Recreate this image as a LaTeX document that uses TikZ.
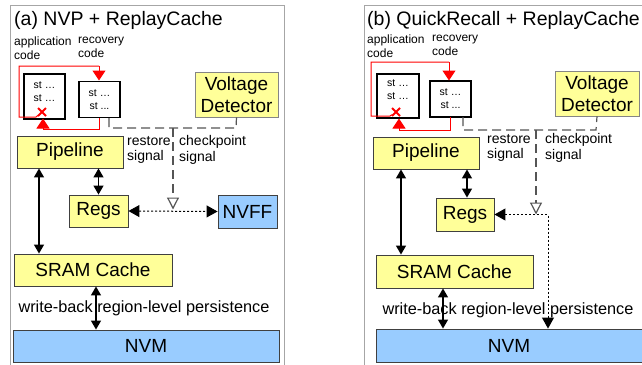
\documentclass[tikz,border=0pt]{standalone}
\usepackage{fontspec}
\setmainfont{Liberation Sans}
\usepackage{tikz}
\usetikzlibrary{arrows.meta,shapes.misc}
\definecolor{panel}{HTML}{A6A6A6}
\definecolor{boxline}{HTML}{404040}
\definecolor{hot}{HTML}{FFFF99}
\definecolor{cold}{HTML}{99CCFF}
\definecolor{sig}{HTML}{555555}
\tikzset{
  frame/.style={draw=panel, line width=1pt},
  title/.style={anchor=west, inner sep=0pt, font=\fontsize{19.5}{22}\selectfont},
  small/.style={anchor=north west, inner sep=0pt, align=left, font=\fontsize{12}{14}\selectfont},
  note/.style={anchor=west, inner sep=0pt, align=left, font=\fontsize{14}{15.5}\selectfont},
  wide/.style={inner sep=0pt, font=\fontsize{16.3}{18}\selectfont},
  codebox/.style={draw=black, line width=1.1pt, fill=white, inner sep=0pt, align=center,
    font=\fontsize{10.5}{13}\selectfont},
  unit/.style={draw=boxline, line width=0.9pt, fill=hot, inner sep=0pt, align=center,
    font=\fontsize{19}{22}\selectfont},
  mem/.style={unit, fill=cold},
  redline/.style={draw=red, line width=1pt},
  redarr/.style={redline, -{Triangle[width=13pt,length=10pt]}},
  xmark/.style={cross out, draw=red, line width=2pt, minimum size=6pt, inner sep=0pt},
  dbl/.style={line width=1.3pt, {Triangle[width=10pt,length=9pt]}-{Triangle[width=10pt,length=9pt]}},
  ctl/.style={draw=sig, line width=1.2pt, dash pattern=on 9pt off 5pt},
  trig/.style={ctl, -{Triangle[open,width=12pt,length=12pt]}},
  dot/.style={line width=1pt, dash pattern=on 2pt off 2pt},
}

\begin{document}
\begin{tikzpicture}[x=1pt, y=-1pt]
  \useasboundingbox (0,0) rectangle (642,364);

  % ---------------- (a) NVP + ReplayCache ----------------
  \draw[frame] (10,366) -- (10,5) -- (284,5) -- (284,366);
  \node[title] (titleA) at (14,20) {(a) NVP + ReplayCache};
  \node[small] (appA) at (14,37) {application\\code};
  \node[small] (recA) at (78,37) {recovery\\code};

  \node[codebox, text depth=10pt, minimum width=41, minimum height=45] (appboxA) at (44.5,96.5) {st …\\st …};
  \node[codebox, minimum width=41, minimum height=36] (recboxA) at (99.5,99.5) {st …\\st ...};
  \node[xmark] (crossA) at (42,112) {};

  \node[unit, draw=panel!80!black, minimum width=83, minimum height=45] (vdA) at (236.5,94.5) {Voltage\\Detector};
  \node[unit, minimum width=106, minimum height=32] (pipeA) at (70,152) {Pipeline};
  \node[unit, minimum width=59, minimum height=32] (regsA) at (98.5,211) {Regs};
  \node[mem, minimum width=59, minimum height=33] (nvffA) at (247.5,211.5) {NVFF};
  \node[unit, minimum width=158, minimum height=32] (sramA) at (93,270) {SRAM Cache};
  \node[mem, minimum width=266, minimum height=32] (nvmA) at (146,346) {NVM};

  \node[note] (restA) at (127,150) {restore\\signal};
  \node[note] (ckptA) at (179,150) {checkpoint\\signal};

  % recovery flow
  \draw[redline] (crossA) -- (36,117) -- (19,117) -- (19,66) -- (99,66);
  \draw[redarr] (99,66) -- (99,80.5);
  \draw[redarr] (99,118) -- (99,129) -- (43,129) -- (43,118.5);

  % signals from the detector
  \draw[ctl] (109,118) -- (109,128) -- (236,128) -- (vdA.south);
  \draw[trig] (173,128) -- (173,209.5);
  \draw[dot, {Triangle[width=12pt,length=11pt]}-{Triangle[width=12pt,length=11pt]}] (regsA.east) -- (nvffA.west);

  \draw[dbl] ([xshift=-31pt]pipeA.south) -- ([xshift=-54pt]sramA.north);
  \draw[dbl] (pipeA.south -| regsA.north) -- (regsA.north);
  \coordinate (wbA) at ([xshift=3pt]sramA.south);
  \draw[dbl] (wbA) -- (wbA |- nvmA.north);
  \node[wide] (persA) at (144,308) {write-back region-level persistence};

  % ---------------- (b) QuickRecall + ReplayCache ----------------
  \draw[frame] (364,366) -- (364,5) -- (650,5);
  \node[title] (titleB) at (367,20) {(b) QuickRecall + ReplayCache};
  \node[small] (appB) at (367,35) {application\\code};
  \node[small] (recB) at (432,35) {recovery\\code};

  \node[codebox, text depth=12pt, minimum width=42, minimum height=44] (appboxB) at (398,96) {st …\\st …};
  \node[codebox, minimum width=41, minimum height=36] (recboxB) at (450.5,99) {st …\\st ...};
  \node[xmark] (crossB) at (396,112) {};

  \node[unit, draw=panel!80!black, minimum width=84, minimum height=45] (vdB) at (597,93.5) {Voltage\\Detector};
  \node[unit, minimum width=106, minimum height=32] (pipeB) at (426,153) {Pipeline};
  \node[unit, minimum width=58, minimum height=33] (regsB) at (465,214.5) {Regs};
  \node[unit, minimum width=157, minimum height=33] (sramB) at (454.5,271.5) {SRAM Cache};
  \node[mem, minimum width=266, minimum height=33] (nvmB) at (509,345.5) {NVM};

  \node[note] (restB) at (487,148) {restore\\signal};
  \node[note] (ckptB) at (545,148) {checkpoint\\signal};

  % recovery flow
  \draw[redline] (crossB) -- (390,116) -- (371,116) -- (371,62) -- (449,62);
  \draw[redarr] (449,62) -- (449,80.5);
  \draw[redarr] (450,117) -- (450,130) -- (399,130) -- (399,118.5);

  % signals from the detector
  \draw[ctl] (463,117) -- (463,130) -- (596,130) -- (vdB.south);
  \draw[trig] (536,130) -- (536,214.5);
  \coordinate (bendB) at (548,214.5);
  \draw[dot, {Triangle[width=12pt,length=11pt]}-{Triangle[width=12pt,length=11pt]}] (regsB.east) -- (bendB) -- (bendB |- nvmB.north);

  \draw[dbl] ([xshift=-25pt]pipeB.south) -- ([xshift=-53.5pt]sramB.north);
  \draw[dbl] ([xshift=41pt]pipeB.south) -- ([xshift=2pt]regsB.north);
  \coordinate (wbB) at ([xshift=-11.5pt]sramB.south);
  \draw[dbl] (wbB) -- (wbB |- nvmB.north);
  \node[wide] (persB) at (508,310) {write-back region-level persistence};
\end{tikzpicture}
\end{document}
